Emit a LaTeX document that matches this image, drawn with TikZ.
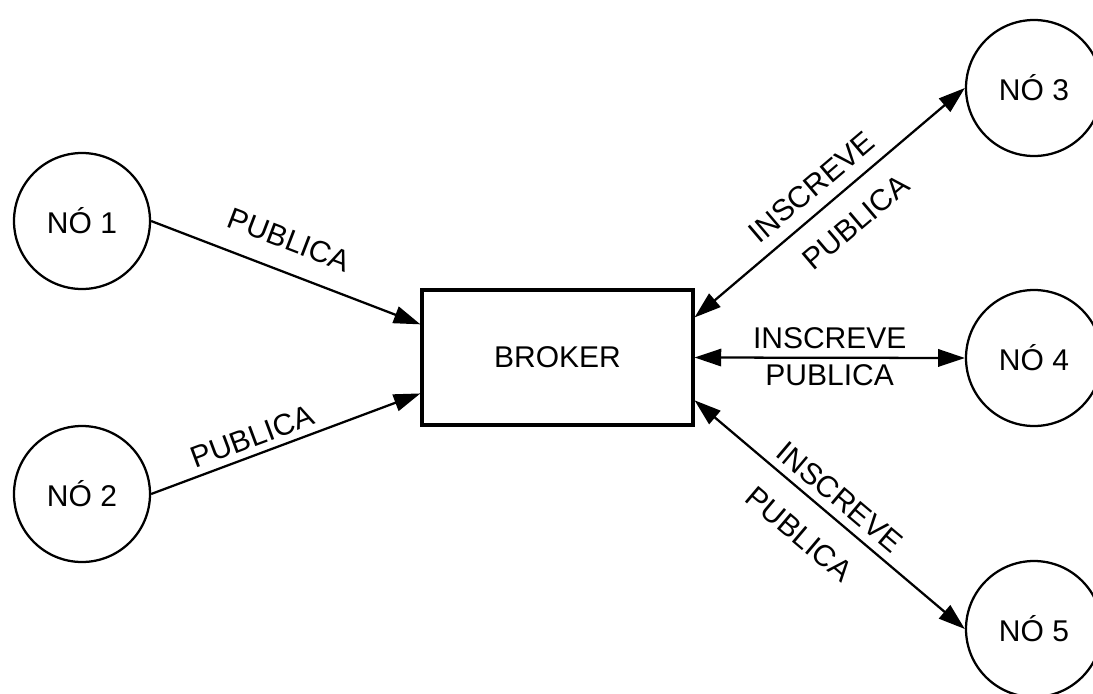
\documentclass[tikz,border=0pt]{standalone}
\usepackage{fontspec}
\setmainfont{Liberation Sans}
\usetikzlibrary{arrows.meta,calc}

\begin{document}
\begin{tikzpicture}[x=0.75pt,y=-0.75pt,
  every node/.style={font=\fontsize{22.5}{27}\selectfont},
  nodo/.style={draw,circle,line width=1.7pt,minimum size=102pt,inner sep=0pt},
  caixa/.style={draw,rectangle,line width=2.6pt,minimum width=203pt,minimum height=101pt},
  seta/.style={line width=1.7pt,-{Triangle[length=20pt,width=13pt]}},
  seta2/.style={line width=1.7pt,{Triangle[length=20pt,width=13pt]}-{Triangle[length=20pt,width=13pt]}},
  rotulo/.style={sloped,inner sep=2pt}]
\useasboundingbox (0,0) rectangle (1093,693);

% broker e nos
\node[caixa] (broker) at (557.5,357.5) {BROKER};
\node[nodo] (n1) at (82,221) {NÓ 1};
\node[nodo] (n2) at (82,494) {NÓ 2};
\node[nodo] (n3) at (1034,88) {NÓ 3};
\node[nodo] (n4) at (1034,358) {NÓ 4};
\node[nodo] (n5) at (1034,629) {NÓ 5};

% publicadores
\draw[seta] (n1.east) -- ($(broker.north west)!0.26!(broker.south west)$)
  node[rotulo,pos=0.47,above=13pt] {PUBLICA};
\draw[seta] (n2.east) -- ($(broker.north west)!0.76!(broker.south west)$)
  node[rotulo,pos=0.40,above=3pt] {PUBLICA};

% inscritos
\draw[seta2] ($(broker.north east)!0.21!(broker.south east)$) -- (n3.west)
  node[rotulo,pos=0.49,above=7pt] {INSCREVE}
  node[rotulo,pos=0.52,below=13pt] {PUBLICA};
\draw[seta2] (broker.east) -- (n4.west)
  node[rotulo,pos=0.5,above=4pt] {INSCREVE}
  node[rotulo,pos=0.5,below=2pt] {PUBLICA};
\draw[seta2] ($(broker.north east)!0.81!(broker.south east)$) -- (n5.west)
  node[rotulo,pos=0.49,above=4pt] {INSCREVE}
  node[rotulo,pos=0.47,below=15pt] {PUBLICA};

\end{tikzpicture}
\end{document}
